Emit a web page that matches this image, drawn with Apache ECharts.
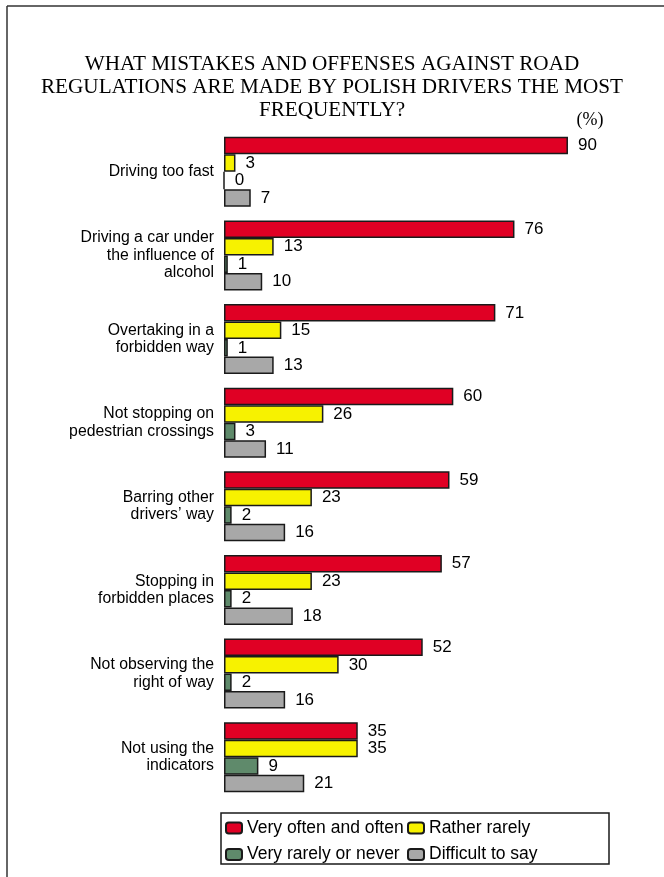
<!DOCTYPE html>
<html>
<head>
<meta charset="utf-8">
<script src="https://cdn.jsdelivr.net/npm/echarts@6/dist/echarts.min.js"></script>
<style>
html,body{margin:0;padding:0;background:#fff;}
#chart{width:664px;height:877px;}
</style>
</head>
<body>
<div id="chart"></div>
<script>
var categories = [
  "Driving too fast",
  "Driving a car under\nthe influence of\nalcohol",
  "Overtaking in a\nforbidden way",
  "Not stopping on\npedestrian crossings",
  "Barring other\ndrivers\u2019 way",
  "Stopping in\nforbidden places",
  "Not observing the\nright of way",
  "Not using the\nindicators"
];
var seriesNames = ["Very often and often", "Rather rarely", "Very rarely or never", "Difficult to say"];
var veryOften = [90, 76, 71, 60, 59, 57, 52, 35];
var ratherRarely = [3, 13, 15, 26, 23, 23, 30, 35];
var veryRarely = [0, 1, 1, 3, 2, 2, 2, 9];
var difficult = [7, 10, 13, 11, 16, 18, 16, 21];
var colors = ["#E00024", "#F7F200", "#5F8A6B", "#A8A8A8"];
var titleText = "WHAT MISTAKES AND OFFENSES AGAINST ROAD\nREGULATIONS ARE MADE BY POLISH DRIVERS THE MOST\nFREQUENTLY?";
var unitText = "(%)";

var values = [veryOften, ratherRarely, veryRarely, difficult];
var sans = "Liberation Sans, Arial, sans-serif";
var serif = "Liberation Serif, Times New Roman, serif";

var chart = echarts.init(document.getElementById('chart'));
var series = values.map(function (v, i) {
  return {
    name: seriesNames[i],
    type: 'bar',
    data: v,
    barWidth: 17.5,
    barGap: '0%',
    itemStyle: { color: colors[i], borderColor: '#1a1a1a', borderWidth: 1.5 },
    label: {
      show: true, position: 'right', distance: 10,
      color: '#000', fontSize: 17, fontFamily: sans
    },
    animation: false
  };
});

var legendText = { fontSize: 17.5, lineHeight: 17, fontFamily: sans, color: '#000' };

chart.setOption({
  backgroundColor: '#fff',
  animation: false,
  title: {
    text: titleText,
    left: 'center',
    top: 48,
    textStyle: { fontFamily: serif, fontSize: 21.2, fontWeight: 'normal', color: '#000', lineHeight: 23 }
  },
  grid: { left: 224, right: 57.8, top: 130, bottom: 78, containLabel: false },
  xAxis: { type: 'value', min: 0, max: 100, show: false },
  yAxis: {
    type: 'category', data: categories, inverse: true,
    axisLine: { show: false }, axisTick: { show: false },
    axisLabel: { margin: 10, fontSize: 15.8, lineHeight: 17.5, color: '#000', fontFamily: sans }
  },
  legend: [
    {
      data: [seriesNames[0], seriesNames[2]], orient: 'vertical', left: 225, top: 819,
      padding: 0, itemWidth: 16, itemHeight: 11, itemGap: 8.5,
      textStyle: legendText,
      selectedMode: false
    },
    {
      data: [seriesNames[1], seriesNames[3]], orient: 'vertical', left: 407, top: 819,
      padding: 0, itemWidth: 16, itemHeight: 11, itemGap: 8.5,
      textStyle: legendText,
      selectedMode: false
    }
  ],
  graphic: [
    { type: 'line', shape: { x1: 7, y1: 6, x2: 664, y2: 6 }, style: { stroke: '#333', lineWidth: 1.5 } },
    { type: 'line', shape: { x1: 7, y1: 6, x2: 7, y2: 877 }, style: { stroke: '#333', lineWidth: 1.5 } },
    { type: 'rect', shape: { x: 221, y: 813, width: 388, height: 51 }, style: { fill: 'none', stroke: '#1a1a1a', lineWidth: 1.5 } },
    { type: 'text', x: 590, y: 120, style: { text: unitText, font: '18px ' + serif, fill: '#000', textAlign: 'center', textVerticalAlign: 'middle' } }
  ],
  series: series
});
</script>
</body>
</html>
